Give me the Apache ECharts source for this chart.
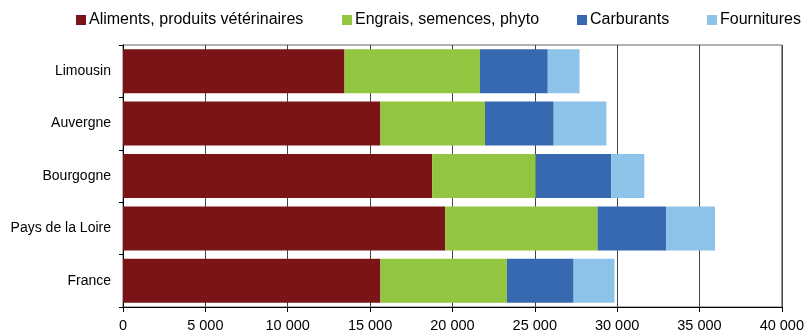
<!DOCTYPE html>
<html><head><meta charset="utf-8">
<script src="https://cdn.jsdelivr.net/npm/echarts@6/dist/echarts.min.js"></script>
<style>html,body{margin:0;padding:0;background:#fff}#c{width:807px;height:334px}</style>
</head><body><div id="c"></div>
<script>
const categories = ['Limousin', 'Auvergne', 'Bourgogne', 'Pays de la Loire', 'France'];
const seriesNames = ['Aliments, produits vétérinaires', 'Engrais, semences, phyto', 'Carburants', 'Fournitures'];
const aliments = [13450, 15630, 18770, 19560, 15630];
const engrais = [8220, 6350, 6290, 9250, 7680];
const carburants = [4120, 4170, 4590, 4170, 4050];
const fournitures = [1930, 3200, 2000, 2960, 2480];
const colors = ['#7B1416', '#92C640', '#3769B1', '#8EC3E9'];
const values = [aliments, engrais, carburants, fournitures];
const legendLeft = [76, 342, 577, 707];

const font = 'Liberation Sans, Arial, sans-serif';
const chart = echarts.init(document.getElementById('c'));
chart.setOption({
  animation: false,
  color: colors,
  legend: seriesNames.map((n, i) => ({
    data: [n], left: legendLeft[i], top: 12, itemWidth: 10, itemHeight: 10,
    itemGap: 0, icon: 'rect', padding: 0,
    textStyle: {fontFamily: font, fontSize: 16, color: '#000', padding: [0, 0, 0, -2]}
  })),
  grid: {left: 123, right: 23, top: 45, bottom: 27, show: true, borderColor: '#666', borderWidth: 1},
  xAxis: {
    type: 'value', min: 0, max: 40000, interval: 5000,
    axisLine: {show: true, lineStyle: {color: '#000'}},
    axisTick: {show: true, length: 5, lineStyle: {color: '#000'}},
    splitLine: {show: true, lineStyle: {color: '#444'}},
    axisLabel: {fontFamily: font, fontSize: 14.5, color: '#000', margin: 11,
      formatter: v => v === 0 ? '0' : String(v).replace(/\B(?=(\d{3})+(?!\d))/g, ' ')}
  },
  yAxis: {
    type: 'category', data: categories, inverse: true,
    axisLine: {show: true, lineStyle: {color: '#000'}},
    axisTick: {show: true, length: 4, lineStyle: {color: '#000'}},
    axisLabel: {fontFamily: font, fontSize: 14, color: '#000', margin: 12}
  },
  series: seriesNames.map((n, i) => ({
    name: n, type: 'bar', stack: 'total', data: values[i],
    barCategoryGap: '16%', itemStyle: {color: colors[i]}
  }))
});
</script></body></html>
